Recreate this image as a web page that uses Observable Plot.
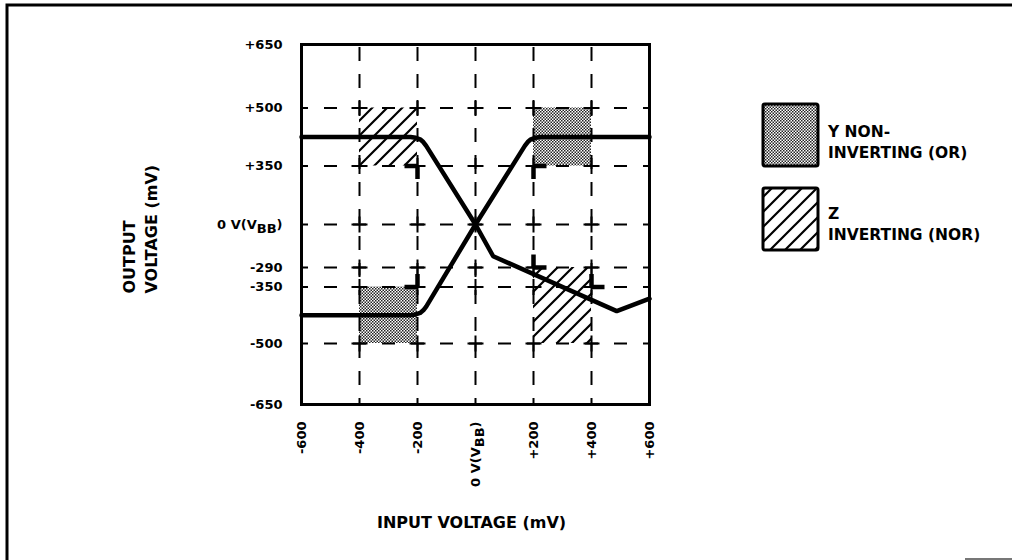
<!DOCTYPE html>
<html><head><meta charset="utf-8">
<script src="https://cdn.jsdelivr.net/npm/d3@7"></script>
<script src="https://cdn.jsdelivr.net/npm/@observablehq/plot@0.6"></script>
<style>html,body{margin:0;padding:0;background:#fff;} svg{display:block}</style>
</head><body><div id="chart"></div>
<script>
// ---- data ----
const xTicks = [-600, -400, -200, 0, 200, 400, 600];
const xTickLabels = ["-600", "-400", "-200", "0 V(V_BB)", "+200", "+400", "+600"];
const yTicks = [-650, -500, -350, -290, 0, 350, 500, 650];
const yTickLabels = ["-650", "-500", "-350", "-290", "0 V(V_BB)", "+350", "+500", "+650"];
const gridX = [-400, -200, 0, 200, 400];
const gridY = [500, 350, 0, -290, -350, -500];

// Y non-inverting (OR) transfer curve
const orX = [-600, -224, -206, -191, -180, -170, 0, 170, 180, 191, 206, 224, 600];
const orY = [-425, -425, -423, -419, -412, -402, 0, 402, 412, 419, 423, 425, 425];
// Z inverting (NOR) transfer curve
const norX = [-600, -224, -206, -191, -180, -170, 0, 61, 487, 600];
const norY = [425, 425, 423, 419, 412, 402, 0, -214, -414, -381];

// stippled (Y) and hatched (Z) spec windows
const dotX1 = [200, -400], dotX2 = [400, -200], dotY1 = [350, -500], dotY2 = [500, -350];
const hatchX1 = [-400, 200], hatchX2 = [-200, 400], hatchY1 = [350, -500], hatchY2 = [500, -290];

// heavy threshold markers (direction in degrees, 0 = up)
const markX = [-200, -200, -200, -200, 200, 200, 200, 200, 400, 400];
const markY = [350, 350, -350, -350, 350, 350, -290, -290, -350, -350];
const markDir = [270, 180, 270, 0, 90, 180, 0, 90, 0, 90];

const legendLabels = [["Y NON-", "INVERTING (OR)"], ["Z", "INVERTING (NOR)"]];
const xTitle = "INPUT VOLTAGE (mV)";
const yTitle = "OUTPUT\nVOLTAGE (mV)";

// ---- tables ----
const orData = orX.map((x, i) => ({x, y: orY[i]}));
const norData = norX.map((x, i) => ({x, y: norY[i]}));
const dotData = dotX1.map((x1, i) => ({x1, x2: dotX2[i], y1: dotY1[i], y2: dotY2[i]}));
const hatchData = hatchX1.map((x1, i) => ({x1, x2: hatchX2[i], y1: hatchY1[i], y2: hatchY2[i]}));
const crossData = gridX.flatMap(x => gridY.map(y => ({x, y})));
const markData = markX.map((x, i) => ({x, y: markY[i], dir: markDir[i]}));
const yTickData = yTicks.map((v, i) => ({v, label: yTickLabels[i]}));

// the chart's vertical axis is schematic (non-uniform tick spacing): piecewise scale transform
const ySpacing = [0, 61, 117.5, 137, 180, 238.5, 296.5, 360];
const yPiecewise = d3.scaleLinear().domain(yTicks).range(ySpacing);

const plusSym = {draw(ctx, size) {
  const r = Math.sqrt(size / Math.PI);
  ctx.moveTo(-r, 0); ctx.lineTo(r, 0); ctx.moveTo(0, -r); ctx.lineTo(0, r);
}};
const stub = {draw(ctx, l) { ctx.moveTo(0, 0); ctx.lineTo(0, -l); }};

const svg = Plot.plot({
  width: 1012, height: 560,
  marginLeft: 301, marginRight: 363, marginTop: 44, marginBottom: 156,
  style: {fontFamily: "DejaVu Sans", fontWeight: "bold", fontSize: "13px", color: "black", background: "white"},
  x: {domain: [-600, 600]},
  y: {transform: yPiecewise, domain: [0, 360], axis: null},
  marks: [
    Plot.rect(dotData, {x1: "x1", x2: "x2", y1: "y1", y2: "y2", fill: "url(#dots)"}),
    Plot.rect(hatchData, {x1: "x1", x2: "x2", y1: "y1", y2: "y2", fill: "url(#hatch)"}),
    Plot.ruleX(gridX, {stroke: "black", strokeWidth: 2, strokeDasharray: "14,13", strokeDashoffset: 24}),
    Plot.ruleY(gridY, {stroke: "black", strokeWidth: 2, strokeDasharray: "13,16", strokeDashoffset: 6}),
    Plot.dot(crossData, {x: "x", y: "y", symbol: plusSym, r: 8, stroke: "black", strokeWidth: 2, fill: "none"}),
    Plot.line(orData, {x: "x", y: "y", stroke: "black", strokeWidth: 4.5, strokeLinejoin: "round"}),
    Plot.line(norData, {x: "x", y: "y", stroke: "black", strokeWidth: 4.5, strokeLinejoin: "round"}),
    Plot.vector(markData, {x: "x", y: "y", rotate: "dir", length: 13, anchor: "start", shape: stub, stroke: "black", strokeWidth: 4.5, strokeLinecap: "butt"}),
    Plot.frame({stroke: "black", strokeWidth: 3}),
    Plot.text(yTickData, {frameAnchor: "left", y: "v", text: "label", textAnchor: "end", lineAnchor: "middle", dx: -19}),
    Plot.axisX({ticks: xTicks, tickFormat: d => xTickLabels[xTicks.indexOf(d)], tickSize: 0, tickPadding: 17, tickRotate: -90, label: null}),
    Plot.text([xTitle], {text: d => d, frameAnchor: "bottom", dx: -4, dy: 118, fontSize: 16, lineAnchor: "middle"}),
    Plot.text([yTitle], {text: d => d, frameAnchor: "left", dx: -163, dy: 69, rotate: -90, textAnchor: "start", lineAnchor: "middle", fontSize: 16, lineHeight: 1.38})
  ]
});

const S = d3.select(svg);
const defs = S.insert("defs", ":first-child");
const dots = defs.append("pattern").attr("id", "dots").attr("patternUnits", "userSpaceOnUse").attr("width", 3).attr("height", 3);
dots.append("rect").attr("width", 3).attr("height", 3).attr("fill", "#fff");
dots.append("rect").attr("width", 1.5).attr("height", 1.5).attr("fill", "#222");
dots.append("rect").attr("x", 1.5).attr("y", 1.5).attr("width", 1.5).attr("height", 1.5).attr("fill", "#222");
const hatch = defs.append("pattern").attr("id", "hatch").attr("patternUnits", "userSpaceOnUse").attr("width", 15).attr("height", 15);
hatch.append("path").attr("d", "M0,15L15,0M-2,2L2,-2M13,17L17,13").attr("stroke", "#000").attr("stroke-width", 2.2).attr("fill", "none");

// subscripts
S.selectAll("text").each(function () {
  const t = this.textContent;
  if (t.includes("_BB")) {
    const [pre, post] = t.split("_BB");
    const sel = d3.select(this);
    sel.text(null);
    sel.append("tspan").text(pre);
    sel.append("tspan").attr("dy", "0.35em").text("BB");
    sel.append("tspan").attr("dy", "-0.35em").text(post);
  }
});

// legend
const legendFills = ["url(#dots)", "url(#hatch)"];
const lg = S.append("g").attr("font-size", 15.5).attr("font-weight", "bold").attr("font-family", "DejaVu Sans").attr("text-anchor", "start");
const boxTops = [104, 188];
legendLabels.forEach((lines, i) => {
  lg.append("rect").attr("x", 763).attr("y", boxTops[i]).attr("width", 55).attr("height", 62)
    .attr("rx", 2).attr("fill", legendFills[i]).attr("stroke", "#000").attr("stroke-width", 3);
  const baseY = i === 0 ? 137 : 219;
  lines.forEach((s, j) => lg.append("text").attr("x", 828).attr("y", baseY + j * 21).text(s));
});

// page border
S.append("path").attr("d", "M7,560V5H1012").attr("stroke", "#000").attr("stroke-width", 3).attr("fill", "none");
S.append("path").attr("d", "M965,559H1012").attr("stroke", "#777").attr("stroke-width", 2).attr("fill", "none");

document.getElementById("chart").appendChild(svg);
</script>
</body></html>
